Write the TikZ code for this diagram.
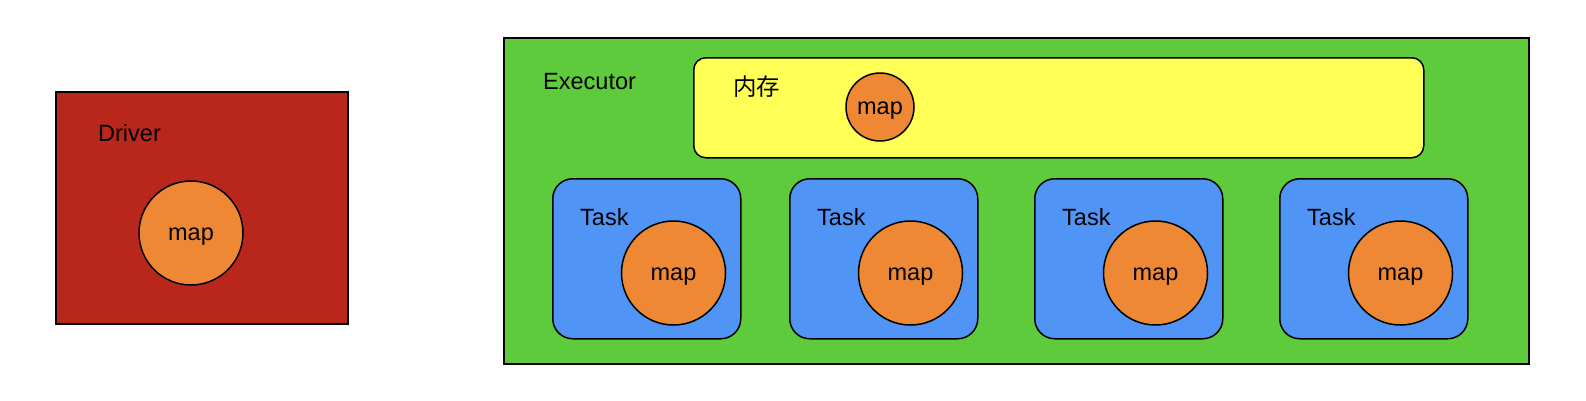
\documentclass[tikz,border=0pt]{standalone}
\usepackage{fontspec}
\setmainfont{Liberation Sans}
\newfontfamily\cjk{Noto Sans CJK SC}
\definecolor{drvred}{RGB}{185,38,27}
\definecolor{exgreen}{RGB}{94,203,61}
\definecolor{memyellow}{RGB}{255,255,85}
\definecolor{taskblue}{RGB}{80,148,245}
\definecolor{maporange}{RGB}{238,136,52}
\begin{document}
\begin{tikzpicture}[x=1pt,y=-1pt,
  box/.style={draw=black,line width=1.5pt,inner sep=0pt,anchor=north west},
  mapc/.style={circle,draw=black,line width=1.5pt,fill=maporange,inner sep=0pt,text height=15pt,text depth=0pt,font=\fontsize{23.5}{28}\selectfont},
  lbl/.style={anchor=west,inner sep=0pt,font=\fontsize{23.5}{28}\selectfont},
  taskbox/.style={box,fill=taskblue,rounded corners=20pt,minimum width=188pt,minimum height=160pt}]
\useasboundingbox (0,0) rectangle (1586,400);
% Driver
\node[box,fill=drvred,minimum width=292pt,minimum height=232pt] (driver) at (55,91) {};
\node[lbl] (driverlbl) at (98,133) {Driver};
\node[mapc,minimum size=104pt] (drvmap) at (191,233) {map};
% Executor
\node[box,fill=exgreen,minimum width=1025pt,minimum height=326pt] (exec) at (503,37) {};
\node[lbl] (execlbl) at (543,82) {Executor};
% memory
\node[box,fill=memyellow,rounded corners=12pt,minimum width=730pt,minimum height=100pt] (mem) at (693,57) {};
\node[lbl] (memlbl) at (733,87) {\cjk 内存};
\node[mapc,minimum size=68pt] (memmap) at (880,107) {map};
% tasks
\foreach \i/\x in {1/552,2/789,3/1034,4/1279}{
  \node[taskbox] (task\i) at (\x,178) {};
  \node[lbl] (tasklbl\i) at (\x+28,217) {Task};
  \node[mapc,minimum size=104pt] (taskmap\i) at (\x+121.5,273) {map};
}
\end{tikzpicture}
\end{document}
